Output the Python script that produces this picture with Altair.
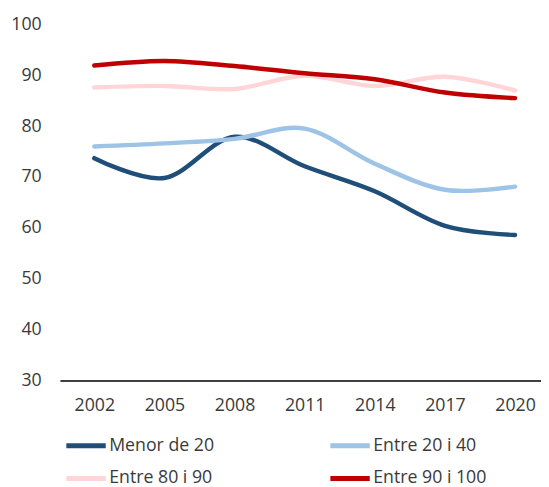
import altair as alt
import pandas as pd

years = [2002, 2005, 2008, 2011, 2014, 2017, 2020]
series_names = ["Menor de 20", "Entre 20 i 40", "Entre 80 i 90", "Entre 90 i 100"]
menor_20 = [73.7, 69.8, 77.9, 72.1, 67.2, 60.4, 58.6]
entre_20_40 = [76.0, 76.6, 77.5, 79.5, 72.6, 67.5, 68.1]
entre_80_90 = [87.6, 87.9, 87.3, 89.9, 87.9, 89.7, 87.0]
entre_90_100 = [91.9, 92.8, 91.8, 90.4, 89.2, 86.6, 85.5]
colors = ["#1F4E79", "#9DC3E6", "#FFD5D8", "#C00000"]
y_ticks = [30, 40, 50, 60, 70, 80, 90, 100]

rows = []
for name, vals in zip(series_names, [menor_20, entre_20_40, entre_80_90, entre_90_100]):
    for yr, v in zip(years, vals):
        rows.append({"any": yr, "valor": v, "serie": name})
df = pd.DataFrame(rows)

FONT = "Open Sans"
FS = 18

chart = alt.Chart(df).mark_line(
    interpolate="cardinal", strokeWidth=4.5, strokeCap="round"
).encode(
    x=alt.X("any:Q",
            scale=alt.Scale(domain=[2000.53, 2021.11], nice=False, zero=False),
            axis=alt.Axis(values=years, format="d", title=None, ticks=False, grid=False,
                          domainColor="#000000", domainWidth=1.6, labelPadding=16,
                          labelFontSize=FS, labelColor="#3a3a3a", labelFont=FONT,
                          labelFlush=False)),
    y=alt.Y("valor:Q",
            scale=alt.Scale(domain=[30, 100], nice=False, zero=False),
            axis=alt.Axis(values=y_ticks, title=None, ticks=False, grid=False, domain=False,
                          labelPadding=19, labelFontSize=FS, labelColor="#3a3a3a",
                          labelFont=FONT)),
    color=alt.Color("serie:N",
                    scale=alt.Scale(domain=series_names, range=colors),
                    sort=series_names,
                    legend=alt.Legend(title=None, orient="none", legendX=4, legendY=405,
                                      direction="horizontal",
                                      columns=2, columnPadding=107, rowPadding=0.5,
                                      symbolType="stroke", symbolSize=1600,
                                      symbolStrokeWidth=5, labelOffset=1,
                                      labelFontSize=FS, labelColor="#3a3a3a",
                                      labelFont=FONT)),
).properties(
    width=488.3, height=361.5,
    autosize=alt.AutoSizeParams(type="none"),
    padding={"left": 52.7, "top": 13, "right": 0, "bottom": 105},
).configure_view(stroke=None)

chart.save("out.html", embed_options={"renderer": "svg", "actions": False})
